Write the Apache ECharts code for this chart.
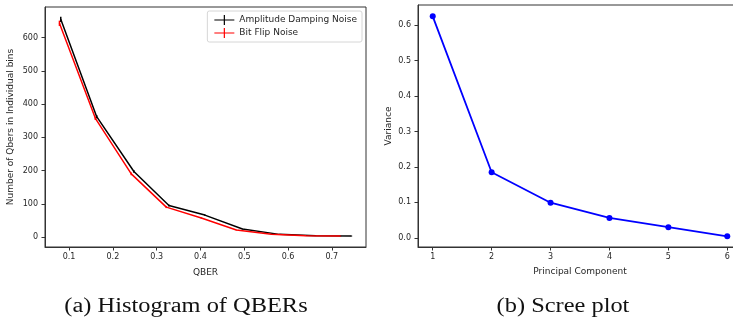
<!DOCTYPE html>
<html>
<head>
<meta charset="utf-8">
<script src="https://cdn.jsdelivr.net/npm/echarts@6/dist/echarts.min.js"></script>
<style>
  html, body { margin: 0; padding: 0; background: #fff; }
  #chart { width: 733px; height: 320px; }
</style>
</head>
<body>
<div id="chart"></div>
<script>
// left panel: histogram of QBERs (bin centres, counts, error bars)
const qberAmp = [0.081, 0.163, 0.248, 0.328, 0.410, 0.496, 0.580, 0.663, 0.745];
const binsAmp = [655, 362, 197, 95, 66, 24, 8, 4, 3];
const errAmp = [8, 5, 4, 3, 2, 1, 1, 1, 1];
const qberFlip = [0.078, 0.160, 0.242, 0.322, 0.402, 0.482, 0.562, 0.641, 0.720];
const binsFlip = [643, 357, 190, 90, 57, 21, 8, 4, 3];
const errFlip = [8, 5, 4, 3, 2, 1, 1, 1, 1];
const qberTicks = [0.1, 0.2, 0.3, 0.4, 0.5, 0.6, 0.7];
const countTicks = [0, 100, 200, 300, 400, 500, 600];

// right panel: scree plot
const components = [1, 2, 3, 4, 5, 6];
const variance = [0.625, 0.185, 0.099, 0.056, 0.030, 0.004];
const varTicks = [0, 0.1, 0.2, 0.3, 0.4, 0.5, 0.6];

const chart = echarts.init(document.getElementById("chart"));

const ink = "#262626";
const spine = "#333";
const tickFont = { fontFamily: "DejaVu Sans", fontSize: 8, color: ink };
const errIcon = "path://M0,4.4h20v1.2h-20z M9.4,0h1.2v10h-1.2z";

const pairs = (xs, ys) => xs.map((x, i) => [x, ys[i]]);
const triples = (xs, ys, es) => xs.map((x, i) => [x, ys[i], es[i]]);

function errorBars(color) {
  return (params, api) => {
    const x = api.value(0), y = api.value(1), e = api.value(2);
    const a = api.coord([x, y + e]);
    const b = api.coord([x, y - e]);
    return {
      type: "line",
      shape: { x1: a[0], y1: a[1], x2: b[0], y2: b[1] },
      style: { stroke: color, lineWidth: 1.5 },
    };
  };
}

function valueAxis(idx, min, max, ticks, fmt, margin, extra) {
  return Object.assign({
    type: "value",
    gridIndex: idx,
    min: min,
    max: max,
    splitLine: { show: false },
    axisLine: { show: true, onZero: false, lineStyle: { color: spine, width: 1 } },
    axisTick: { show: true, length: 3.5, customValues: ticks, lineStyle: { color: spine } },
    axisLabel: { customValues: ticks, formatter: fmt, margin: margin, ...tickFont },
    nameTextStyle: { fontFamily: "DejaVu Sans", fontSize: 9, color: ink },
  }, extra);
}

const fmt1 = (v) => v.toFixed(1);
const fmt0 = (v) => String(Math.round(v));

function caption(text, cx) {
  return {
    type: "text",
    x: cx,
    y: 297,
    scaleX: 1.22,
    style: {
      text: text,
      fill: "#111",
      font: "20px 'Liberation Serif'",
      textAlign: "center",
      textVerticalAlign: "top",
    },
  };
}

chart.setOption({
  animation: false,
  grid: [
    { left: 45, top: 7, width: 321, height: 240, show: true, borderColor: spine, borderWidth: 1, outerBoundsMode: "none" },
    { left: 418, top: 5, width: 324, height: 242, show: true, borderColor: spine, borderWidth: 1, outerBoundsMode: "none" },
  ],
  xAxis: [
    valueAxis(0, 0.045, 0.778, qberTicks, fmt1, 6, { name: "QBER", nameLocation: "middle", nameGap: 21 }),
    valueAxis(1, 0.75, 6.25, components, fmt0, 6, { name: "Principal Component", nameLocation: "middle", nameGap: 20 }),
  ],
  yAxis: [
    valueAxis(0, -30, 692, countTicks, fmt0, 7, { name: "Number of Qbers in Individual bins", nameLocation: "middle", nameGap: 30 }),
    valueAxis(1, -0.026, 0.657, varTicks, fmt1, 7, { name: "Variance", nameLocation: "middle", nameGap: 25 }),
  ],
  legend: {
    orient: "vertical",
    right: 371,
    top: 11,
    padding: [4, 5, 4, 7],
    itemGap: 3,
    itemWidth: 20,
    itemHeight: 10,
    backgroundColor: "#fff",
    borderColor: "#d6d6d6",
    borderWidth: 1,
    borderRadius: 2,
    textStyle: { fontFamily: "DejaVu Sans", fontSize: 9, color: ink },
    data: [
      { name: "Amplitude Damping Noise", icon: errIcon, itemStyle: { color: "#000" } },
      { name: "Bit Flip Noise", icon: errIcon, itemStyle: { color: "#ff0000" } },
    ],
  },
  graphic: [
    caption("(a) Histogram of QBERs", 186),
    caption("(b) Scree plot", 563),
  ],
  series: [
    {
      name: "Amplitude Damping Noise", type: "line", xAxisIndex: 0, yAxisIndex: 0,
      data: pairs(qberAmp, binsAmp), showSymbol: false, symbol: "none",
      lineStyle: { color: "#000", width: 1.5 }, itemStyle: { color: "#000" },
    },
    {
      name: "Amplitude Damping Noise", type: "custom", xAxisIndex: 0, yAxisIndex: 0,
      data: triples(qberAmp, binsAmp, errAmp), renderItem: errorBars("#000"),
    },
    {
      name: "Bit Flip Noise", type: "line", xAxisIndex: 0, yAxisIndex: 0,
      data: pairs(qberFlip, binsFlip), showSymbol: false, symbol: "none",
      lineStyle: { color: "#ff0000", width: 1.5 }, itemStyle: { color: "#ff0000" },
    },
    {
      name: "Bit Flip Noise", type: "custom", xAxisIndex: 0, yAxisIndex: 0,
      data: triples(qberFlip, binsFlip, errFlip), renderItem: errorBars("#ff0000"),
    },
    {
      name: "variance", type: "line", xAxisIndex: 1, yAxisIndex: 1,
      data: pairs(components, variance), symbol: "circle", symbolSize: 6,
      lineStyle: { color: "#0000ff", width: 1.8 }, itemStyle: { color: "#0000ff" },
    },
  ],
});
</script>
</body>
</html>
